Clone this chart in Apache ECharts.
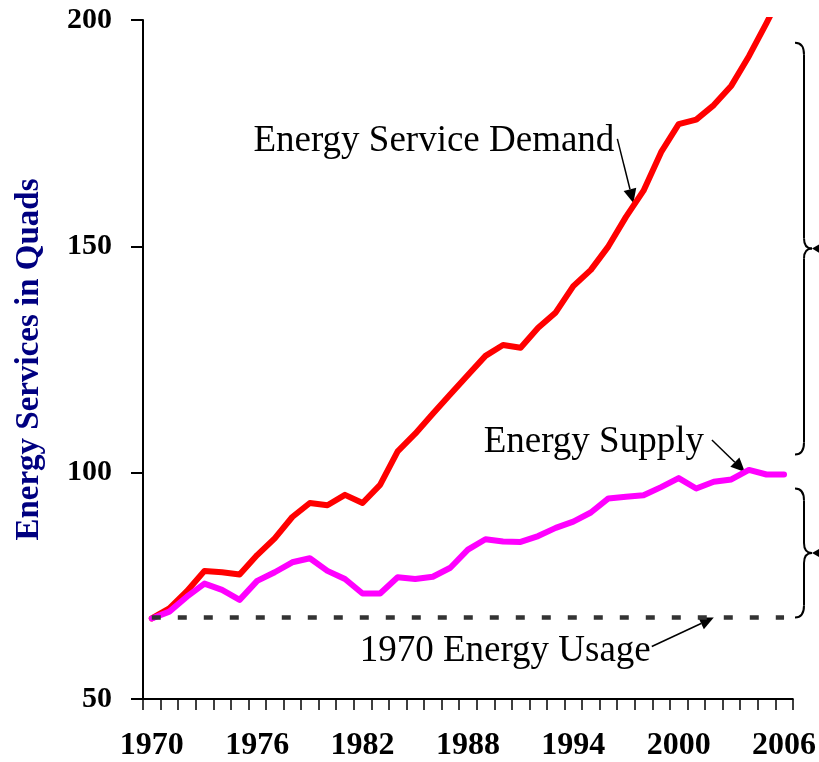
<!DOCTYPE html>
<html>
<head>
<meta charset="utf-8">
<script src="https://cdn.jsdelivr.net/npm/echarts@6/dist/echarts.min.js"></script>
<style>
  html, body { margin: 0; padding: 0; background: #fff; }
  #chart { width: 819px; height: 762px; }
</style>
</head>
<body>
<div id="chart"></div>
<script>
// energy services, quads
const years = ["1970", "1971", "1972", "1973", "1974", "1975", "1976", "1977", "1978", "1979",
  "1980", "1981", "1982", "1983", "1984", "1985", "1986", "1987", "1988", "1989",
  "1990", "1991", "1992", "1993", "1994", "1995", "1996", "1997", "1998", "1999",
  "2000", "2001", "2002", "2003", "2004", "2005", "2006"];

const demand = [67.8, 70.0, 73.8, 78.3, 78.0, 77.5, 81.8, 85.5, 90.2, 93.3,
  92.8, 95.1, 93.3, 97.3, 104.7, 108.6, 113.0, 117.3, 121.6, 125.8,
  128.2, 127.6, 132.0, 135.4, 141.2, 144.8, 150.0, 156.5, 162.3, 170.8,
  177.0, 178.0, 181.2, 185.5, 192.0, 199.3, 207.0];

const supply = [67.8, 69.3, 72.6, 75.5, 74.1, 71.9, 76.1, 78.0, 80.2, 81.1,
  78.3, 76.5, 73.3, 73.3, 76.9, 76.5, 77.0, 79.0, 83.0, 85.3,
  84.8, 84.7, 86.0, 87.8, 89.2, 91.2, 94.3, 94.7, 95.0, 96.8,
  98.8, 96.5, 98.0, 98.5, 100.6, 99.6, 99.6];

const usage1970 = 68;

const yMin = 50, yMax = 200, yStep = 50;

const serif = '"Liberation Serif", "Times New Roman", serif';

let myChart = echarts.init(document.getElementById("chart"));

myChart.setOption({
  animation: false,
  grid: { left: 143, right: 23, top: 20, bottom: 58 },
  xAxis: {
    type: "category",
    data: years,
    boundaryGap: true,
    axisLine: { lineStyle: { color: "#000", width: 2 } },
    axisTick: { show: true, interval: 0, length: 11, lineStyle: { color: "#000", width: 1.5 } },
    axisLabel: {
      interval: 5,
      margin: 31,
      color: "#000",
      fontFamily: serif,
      fontWeight: "bold",
      fontSize: 32
    },
    splitLine: { show: false }
  },
  yAxis: {
    type: "value",
    min: yMin,
    max: yMax,
    interval: yStep,
    name: "Energy Services in Quads",
    nameLocation: "middle",
    nameGap: 97,
    nameTextStyle: { color: "#000080", fontFamily: serif, fontWeight: "bold", fontSize: 33 },
    axisLine: { show: true, lineStyle: { color: "#000", width: 2 } },
    axisTick: { show: true, length: 12, lineStyle: { color: "#000", width: 2 } },
    axisLabel: {
      margin: 31,
      color: "#000",
      fontFamily: serif,
      fontWeight: "bold",
      fontSize: 30
    },
    splitLine: { show: false }
  },
  series: [
    {
      name: "1970 Energy Usage",
      type: "line",
      data: [],
      silent: true,
      markLine: {
        silent: true,
        symbol: ["none", "none"],
        label: { show: false },
        lineStyle: { color: "#333333", width: 4.5, type: [9, 17] },
        data: [[{ coord: [years[0], usage1970] }, { coord: [years[years.length - 1], usage1970] }]]
      }
    },
    {
      name: "Energy Service Demand",
      type: "line",
      data: demand,
      symbol: "none",
      clip: true,
      lineStyle: { color: "#ff0000", width: 6, join: "round", cap: "round" }
    },
    {
      name: "Energy Supply",
      type: "line",
      data: supply,
      symbol: "none",
      lineStyle: { color: "#ff00ff", width: 6, join: "round", cap: "round" }
    }
  ]
});

// annotations: arrows anchored on the data, braces on the y scale
function px(i, v) {
  return myChart.convertToPixel({ xAxisIndex: 0, yAxisIndex: 0 }, [years[i], v]);
}

function arrow(tail, tip) {
  const dx = tip[0] - tail[0], dy = tip[1] - tail[1];
  const len = Math.sqrt(dx * dx + dy * dy);
  const ux = dx / len, uy = dy / len;
  const hl = 14, hw = 6.5;
  const bx = tip[0] - ux * hl, by = tip[1] - uy * hl;
  return [
    { type: "line", shape: { x1: tail[0], y1: tail[1], x2: bx, y2: by }, style: { stroke: "#000", lineWidth: 1.5 } },
    {
      type: "polygon",
      shape: { points: [tip, [bx - uy * hw, by + ux * hw], [bx + uy * hw, by - ux * hw]] },
      style: { fill: "#000" }
    }
  ];
}

function label(text, right, baseline) {
  return {
    type: "text",
    style: {
      text: text,
      x: right,
      y: baseline - 12.5,
      fill: "#000",
      font: "37px " + serif,
      textAlign: "right",
      textVerticalAlign: "middle"
    }
  };
}

const braceStyle = { stroke: "#000", lineWidth: 2, fill: null };

function curve(x1, y1, cx, cy, x2, y2) {
  return { type: "bezierCurve", shape: { x1: x1, y1: y1, cpx1: cx, cpy1: cy, x2: x2, y2: y2 }, style: braceStyle };
}

function seg(x1, y1, x2, y2) {
  return { type: "line", shape: { x1: x1, y1: y1, x2: x2, y2: y2 }, style: braceStyle };
}

function brace(vTop, vBottom) {
  const y1 = px(0, vTop)[1], y2 = px(0, vBottom)[1];
  const ym = (y1 + y2) / 2;
  const x0 = 795, x1 = 804, x2 = 812;
  return [
    curve(x0, y1, x1, y1, x1, y1 + 12),
    seg(x1, y1 + 12, x1, ym - 10),
    curve(x1, ym - 10, x1, ym, x2, ym),
    curve(x2, ym, x1, ym, x1, ym + 10),
    seg(x1, ym + 10, x1, y2 - 12),
    curve(x1, y2 - 12, x1, y2, x0, y2),
    { type: "polygon", shape: { points: [[x2, ym], [x2 + 12, ym - 7], [x2 + 12, ym + 7]] }, style: { fill: "#000" } }
  ];
}

const a = px(27, demand[27]), b = px(28, demand[28]);
const demandTip = [a[0] + (b[0] - a[0]) * 0.42, a[1] + (b[1] - a[1]) * 0.42 - 3];
const demandTail = [demandTip[0] - 16, demandTip[1] - 64];

const s = px(34, supply[34]);
const supplyTip = [s[0] - 4, s[1] + 2];
const supplyTail = [supplyTip[0] - 33, supplyTip[1] - 32];

const usageTip = px(32, usage1970);
const usageTail = [usageTip[0] - 62, usageTip[1] + 29];

let els = [];
els = els.concat(arrow(demandTail, demandTip));
els = els.concat(arrow(supplyTail, supplyTip));
els = els.concat(arrow(usageTail, usageTip));
els.push(label("Energy Service Demand", demandTail[0] - 3, demandTail[1] + 15));
els.push(label("Energy Supply", supplyTail[0] - 8, supplyTail[1] + 15));
els.push(label("1970 Energy Usage", usageTail[0] - 1, usageTail[1] + 17));
els = els.concat(brace(195, 104));
els = els.concat(brace(96.5, usage1970));

myChart.setOption({ graphic: { elements: els } });
</script>
</body>
</html>
